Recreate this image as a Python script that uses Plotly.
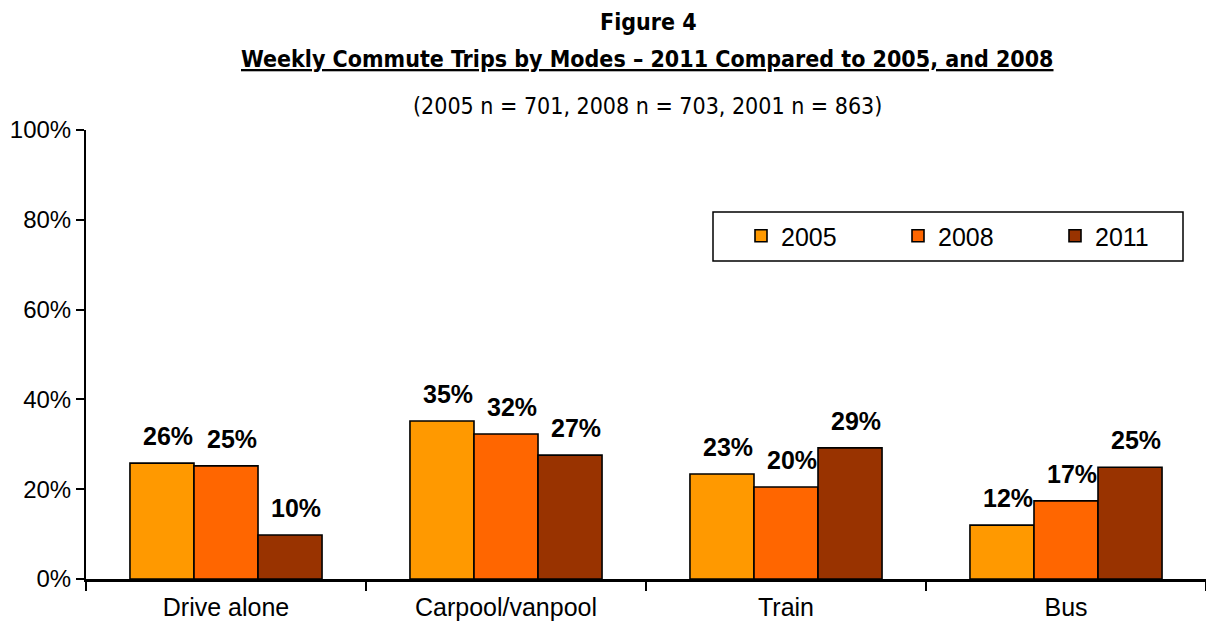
import plotly.graph_objects as go

categories = ["Drive alone", "Carpool/vanpool", "Train", "Bus"]
years = ["2005", "2008", "2011"]
values_2005 = [25.8, 35.2, 23.4, 12.0]
values_2008 = [25.2, 32.3, 20.5, 17.4]
values_2011 = [9.8, 27.6, 29.2, 24.9]
labels_2005 = ["26%", "35%", "23%", "12%"]
labels_2008 = ["25%", "32%", "20%", "17%"]
labels_2011 = ["10%", "27%", "29%", "25%"]
colors = ["#FF9900", "#FF6600", "#993300"]
y_ticks = [0, 20, 40, 60, 80, 100]

series = [values_2005, values_2008, values_2011]
labels = [labels_2005, labels_2008, labels_2011]

W, H = 1206, 622
L, R, T, B = 86, 0, 130, 43
bargap = 0.314
plot_w = W - L - R
cat_w = plot_w / len(categories)
bar_w = cat_w * (1 - bargap) / 3

fig = go.Figure()
for yr, vals, col in zip(years, series, colors):
    fig.add_trace(go.Bar(
        x=categories, y=vals, name=yr,
        marker=dict(color=col, line=dict(color="black", width=1.6)),
    ))

annotations = []
for k, (vals, labs) in enumerate(zip(series, labels)):
    for c, v, t in zip(categories, vals, labs):
        annotations.append(dict(
            x=c, y=v, xref="x", yref="y", text="<b>%s</b>" % t,
            showarrow=False, xshift=(k - 1) * bar_w + 6, yshift=11,
            yanchor="bottom", xanchor="center",
            font=dict(family="Liberation Sans, Arial", size=25, color="black"),
        ))

plot_h = H - T - B
def py(pix):
    return (H - B - pix) / plot_h
def px(pix):
    return (pix - L) / plot_w

title_font = "Liberation Sans Narrow, Arial Narrow, DejaVu Sans Condensed"
annotations += [
    dict(x=px(648), y=py(22), xref="paper", yref="paper",
         text="<b>Figure 4</b>", showarrow=False, xanchor="center", yanchor="middle",
         font=dict(family=title_font, size=23, color="black")),
    dict(x=px(647), y=py(59), xref="paper", yref="paper",
         text="<b><u>Weekly Commute Trips by Modes \u2013 2011 Compared to 2005, and 2008</u></b>",
         showarrow=False, xanchor="center", yanchor="middle",
         font=dict(family=title_font, size=23, color="black")),
    dict(x=px(647), y=py(106), xref="paper", yref="paper",
         text="(2005 n = 701, 2008 n = 703, 2001 n = 863)",
         showarrow=False, xanchor="center", yanchor="middle",
         font=dict(family=title_font, size=23, color="black")),
]

shapes = [dict(type="rect", xref="paper", yref="paper",
               x0=px(713), x1=px(1183), y0=py(261), y1=py(212),
               line=dict(color="black", width=1.5), fillcolor="white", layer="below")]

fig.update_layout(
    width=W, height=H,
    margin=dict(l=L, r=R, t=T, b=B, pad=0, autoexpand=False),
    paper_bgcolor="white", plot_bgcolor="white",
    barmode="group", bargap=bargap, bargroupgap=0,
    font=dict(family="Liberation Sans, Arial", size=25, color="black"),
    annotations=annotations,
    shapes=shapes,
    legend=dict(
        orientation="h", x=px(741), y=py(213), xanchor="left", yanchor="top",
        borderwidth=0, bgcolor="rgba(0,0,0,0)",
        font=dict(family="Liberation Sans, Arial", size=25, color="black"),
        entrywidth=112, entrywidthmode="pixels", itemwidth=30,
    ),
    xaxis=dict(
        showline=True, linecolor="black", linewidth=3, automargin=False,
        ticks="outside", tickson="boundaries", ticklen=9, tickwidth=2, tickcolor="black",
        tickfont=dict(size=25), showgrid=False, zeroline=False, ticklabelstandoff=4,
    ),
    yaxis=dict(
        range=[0, 100], tickvals=y_ticks, ticktext=["%d%%" % v for v in y_ticks],
        showline=True, linecolor="black", linewidth=2, automargin=False,
        ticks="outside", ticklen=8, tickwidth=1.5, tickcolor="black",
        tickfont=dict(size=24), showgrid=False, zeroline=False,
    ),
)

fig.write_html("out.html", config={"displayModeBar": False},
               post_script="document.body.style.margin='0px';")
